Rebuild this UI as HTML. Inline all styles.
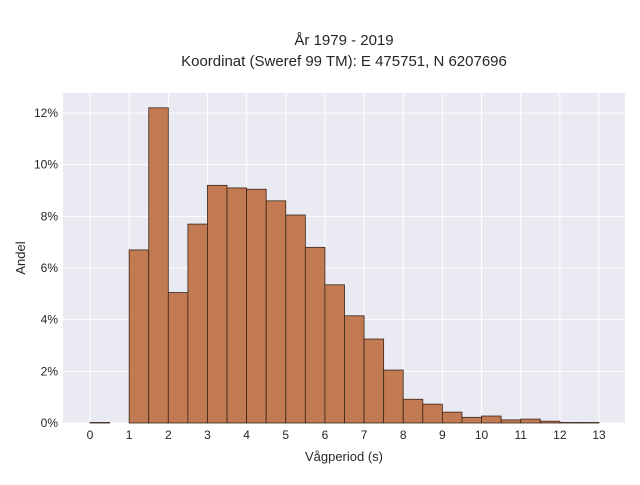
<!DOCTYPE html>
<html><head><meta charset="utf-8"><style>
body{margin:0;background:#fff;font-family:"Liberation Sans",sans-serif}
</style></head><body>
<svg id="c" width="640" height="480" font-family="Liberation Sans, sans-serif" fill="#262626">
<text x="344" y="45" text-anchor="middle" font-size="15">År 1979 - 2019</text>
<text x="344" y="66" text-anchor="middle" font-size="15">Koordinat (Sweref 99 TM): E 475751, N 6207696</text>
<rect x="63" y="93" width="562" height="330" fill="#eaeaf2"/>
<g id="grid"></g><g id="bars"></g><g id="ticks"></g>
<text x="344" y="461" text-anchor="middle" font-size="13">Vågperiod (s)</text>
<text transform="translate(25,258) rotate(-90)" text-anchor="middle" font-size="13">Andel</text>
</svg>
<script>
const binStarts=[0,0.5,1,1.5,2,2.5,3,3.5,4,4.5,5,5.5,6,6.5,7,7.5,8,8.5,9,9.5,10,10.5,11,11.5,12,12.5];
const shares=[0.02,0,6.7,12.2,5.05,7.7,9.2,9.1,9.05,8.6,8.05,6.8,5.35,4.15,3.25,2.05,0.92,0.73,0.42,0.22,0.27,0.12,0.15,0.07,0.02,0.02];
const xTicks=[0,1,2,3,4,5,6,7,8,9,10,11,12,13];
const yTicks=[0,2,4,6,8,10,12];
const binWidth=0.5;
const X=v=>90+v*(599-90)/13;
const Y=v=>423-v*(310/12);
const ns="http://www.w3.org/2000/svg";
function mk(t,a,p){const e=document.createElementNS(ns,t);for(const k in a)e.setAttribute(k,a[k]);p.appendChild(e);return e;}
const g=document.getElementById('grid'),b=document.getElementById('bars'),tk=document.getElementById('ticks');
xTicks.forEach(v=>{
const l=mk('line',{x1:X(v),x2:X(v),y1:93,y2:423,stroke:'#fff','stroke-width':1},g);


const t=mk('text',{x:X(v),y:439,'text-anchor':'middle','font-size':12},tk);t.textContent=v;


});
yTicks.forEach(v=>{
const l=mk('line',{x1:63,x2:625,y1:Y(v),y2:Y(v),stroke:'#fff','stroke-width':1},g);


const t=mk('text',{x:58,y:Y(v)+4,'text-anchor':'end','font-size':12},tk);t.textContent=v+'%';


});
binStarts.forEach((s,i)=>{
const v=shares[i];
const r=mk('rect',{x:X(s),y:Y(v),width:X(s+binWidth)-X(s),height:Y(0)-Y(v),fill:'#c17a52',stroke:'#3a2519','stroke-width':0.8},b);


});
</script>
</body></html>
